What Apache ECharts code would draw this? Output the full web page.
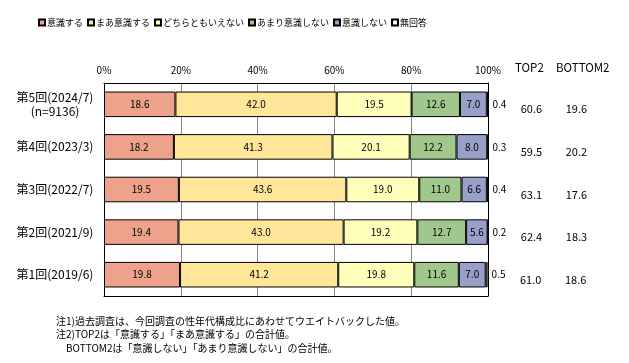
<!DOCTYPE html>
<html><head><meta charset="utf-8">
<script src="https://cdn.jsdelivr.net/npm/echarts@6/dist/echarts.min.js"></script>
<style>html,body{margin:0;padding:0;background:#fff}#c{width:629px;height:363px}</style>
</head><body><div id="c"></div>
<script>
const categories = ['第5回(2024/7)\n(n=9136)', '第4回(2023/3)', '第3回(2022/7)', '第2回(2021/9)', '第1回(2019/6)'];
const seriesNames = ['意識する', 'まあ意識する', 'どちらともいえない', 'あまり意識しない', '意識しない', '無回答'];
const ishiki = [18.6, 18.2, 19.5, 19.4, 19.8];
const maaIshiki = [42.0, 41.3, 43.6, 43.0, 41.2];
const dochira = [19.5, 20.1, 19.0, 19.2, 19.8];
const amari = [12.6, 12.2, 11.0, 12.7, 11.6];
const shinai = [7.0, 8.0, 6.6, 5.6, 7.0];
const mukaito = [0.4, 0.3, 0.4, 0.2, 0.5];
const top2 = [60.6, 59.5, 63.1, 62.4, 61.0];
const bottom2 = [19.6, 20.2, 17.6, 18.3, 18.6];
const xTicks = [0, 20, 40, 60, 80, 100];
const notes = [
  '注1)過去調査は、今回調査の性年代構成比にあわせてウエイトバックした値。',
  '注2)TOP2は「意識する」「まあ意識する」の合計値。',
  '　BOTTOM2は「意識しない」「あまり意識しない」の合計値。'
];

const FONT = '"Noto Sans CJK JP", "Noto Sans", sans-serif';
const colors = ['#EEA18B', '#FFE699', '#FFFFBB', '#A0C88C', '#989FC8', '#FFFFFF'];
const values = [ishiki, maaIshiki, dochira, amari, shinai, mukaito];

const chart = echarts.init(document.getElementById('c'), null, {renderer: 'canvas'});

const series = values.map((arr, k) => {
  const s = {
    name: seriesNames[k],
    type: 'bar',
    stack: 'total',
    barCategoryGap: '40%',
    data: arr,
    itemStyle: {color: colors[k], borderColor: '#000', borderWidth: 1},
    emphasis: {disabled: true},
    label: {
      show: true,
      position: 'inside',
      color: '#000',
      fontSize: 10,
      fontFamily: FONT,
      formatter: p => p.value.toFixed(1)
    }
  };
  if (k === 5) {
    s.label = {
      show: true,
      position: 'right',
      distance: 4,
      color: '#000',
      fontFamily: FONT,
      formatter: p => `{a|${p.value.toFixed(1)}}{b|${top2[p.dataIndex].toFixed(1)}}{c|${bottom2[p.dataIndex].toFixed(1)}}`,
      rich: {
        a: {width: 20, align: 'left', fontSize: 10, lineHeight: 21, verticalAlign: 'middle', fontFamily: FONT, color: '#000'},
        b: {width: 38, align: 'center', fontSize: 11, lineHeight: 21, verticalAlign: 'bottom', fontFamily: FONT, color: '#000'},
        c: {width: 52, align: 'center', fontSize: 11, lineHeight: 21, verticalAlign: 'bottom', fontFamily: FONT, color: '#000'}
      }
    };
  }
  return s;
});

const option = {
  animation: false,
  backgroundColor: '#fff',
  textStyle: {fontFamily: FONT},
  legend: {
    data: seriesNames,
    left: 33,
    top: 13,
    itemWidth: 6,
    itemHeight: 6,
    itemGap: 4,
    icon: 'rect',
    textStyle: {fontSize: 9, color: '#000', fontFamily: FONT, padding: [0, 0, 0, -3]},
    selectedMode: false
  },
  grid: {left: 104, right: 141, top: 83, bottom: 67, containLabel: false},
  xAxis: [{
    type: 'value',
    position: 'top',
    min: 0, max: 100, interval: 20,
    axisLine: {show: true, lineStyle: {color: '#000', width: 1}},
    axisTick: {show: false},
    axisLabel: {formatter: v => v + '%', fontSize: 10, color: '#000', margin: 8, fontFamily: FONT},
    splitLine: {show: true, lineStyle: {color: ['#000', '#888', '#888', '#888', '#888', '#000'], width: 1}}
  }, {
    type: 'value',
    position: 'bottom',
    min: 0, max: 100, interval: 20,
    axisLine: {show: true, onZero: false, lineStyle: {color: '#000', width: 1}},
    axisTick: {show: false},
    axisLabel: {show: false},
    splitLine: {show: false}
  }],
  yAxis: [{
    type: 'category',
    data: categories,
    inverse: true,
    axisLine: {show: true, lineStyle: {color: '#000', width: 1}},
    axisTick: {show: false},
    axisLabel: {align: 'center', margin: 49, fontSize: 12, lineHeight: 14, color: '#000', fontFamily: FONT}
  }, {
    type: 'category',
    data: categories,
    inverse: true,
    position: 'right',
    axisLine: {show: true, onZero: false, lineStyle: {color: '#000', width: 1}},
    axisTick: {show: false},
    axisLabel: {show: false}
  }],
  series: series,
  graphic: [
    {type: 'text', left: 515, top: 62, style: {text: 'TOP2', fontSize: 11.5, fontFamily: FONT, fill: '#000'}},
    {type: 'text', left: 556, top: 62, style: {text: 'BOTTOM2', fontSize: 11.5, fontFamily: FONT, fill: '#000'}},
    ...notes.map((t, i) => ({type: 'text', left: 56, top: [316, 329, 343][i], style: {text: t, fontSize: 10, fontFamily: FONT, fill: '#000'}}))
  ]
};
chart.setOption(option);
</script></body></html>
